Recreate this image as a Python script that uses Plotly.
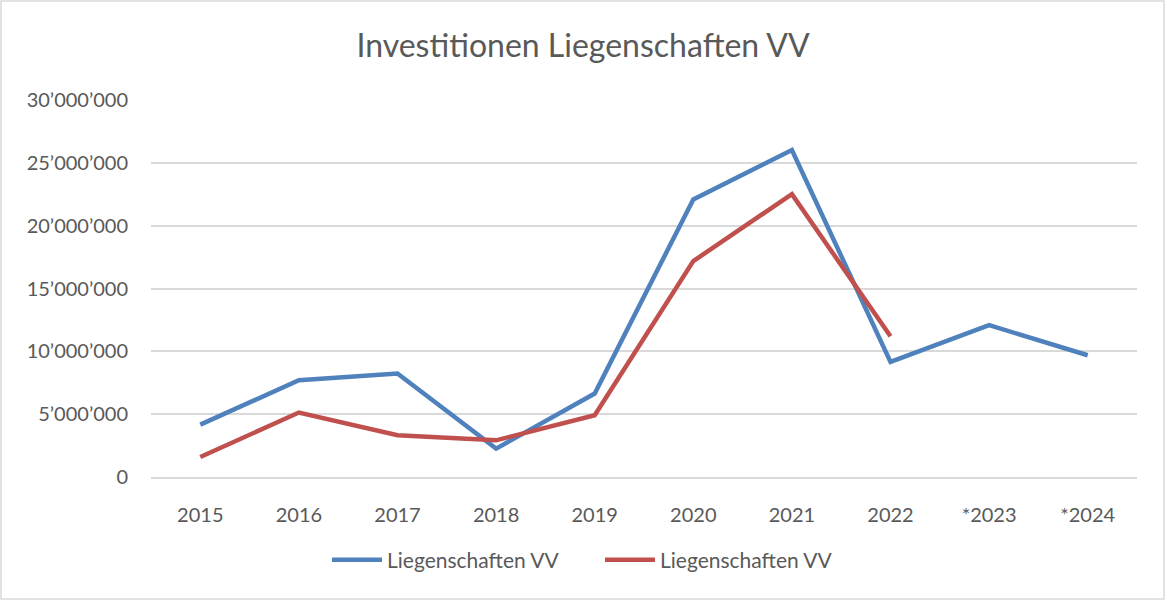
import plotly.graph_objects as go

# Jahre (Kategorien) und Investitionsbeträge
jahre = ["2015", "2016", "2017", "2018", "2019", "2020", "2021", "2022", "*2023", "*2024"]
serie_blau = [4170000, 7700000, 8230000, 2260000, 6640000, 22090000, 26020000, 9160000, 12080000, 9690000]
serie_rot = [1590000, 5130000, 3320000, 2920000, 4910000, 17180000, 22510000, 11200000, None, None]
serien_namen = ["Liegenschaften VV", "Liegenschaften VV"]

y_ticks = [0, 5000000, 10000000, 15000000, 20000000, 25000000, 30000000]
y_labels = ["0", "5’000’000", "10’000’000", "15’000’000", "20’000’000", "25’000’000", "30’000’000"]

FONT = "Lato, 'Open Sans', sans-serif"
GREY = "#595959"

fig = go.Figure()
fig.add_trace(go.Scatter(x=jahre, y=serie_blau, mode="lines", name=serien_namen[0],
                         line=dict(color="#4F81BD", width=4.5)))
fig.add_trace(go.Scatter(x=jahre, y=serie_rot, mode="lines", name=serien_namen[1],
                         line=dict(color="#C0504D", width=4.5)))

W, H = 1166, 601
ml, mr, mt, mb = 151, 29, 100, 124
pw, ph = W - ml - mr, H - mt - mb

def px_x(p):
    return (p - ml) / pw

def px_y(p):
    return (H - mb - p) / ph

fig.update_layout(
    width=W, height=H,
    margin=dict(l=ml, r=mr, t=mt, b=mb),
    paper_bgcolor="white", plot_bgcolor="white",
    font=dict(family=FONT, color=GREY, size=20),
    title=dict(text="Investitionen Liegenschaften VV", x=0.5, xanchor="center",
               y=1 - 46 / H, yanchor="middle",
               font=dict(size=32, color=GREY, family=FONT)),
    xaxis=dict(type="category", showgrid=False, zeroline=False,
               showline=True, linecolor="#D9D9D9", linewidth=1.5,
               ticks="outside", ticklen=19, tickcolor="rgba(0,0,0,0)",
               tickfont=dict(size=20, color=GREY), range=[-0.5, 9.5]),
    yaxis=dict(range=[0, 30000000], tickvals=y_ticks, ticktext=y_labels,
               showgrid=True, gridcolor="#D9D9D9", gridwidth=1.5,
               zeroline=False, showline=False,
               ticks="outside", ticklen=18, tickcolor="rgba(0,0,0,0)",
               tickfont=dict(size=20, color=GREY)),
    legend=dict(orientation="h", x=px_x(327), xanchor="left",
                y=px_y(560), yanchor="middle",
                font=dict(size=21, color=GREY), itemwidth=50,
                entrywidth=208, entrywidthmode="pixels",
                bgcolor="rgba(0,0,0,0)"),
    showlegend=True,
    shapes=[dict(type="rect", xref="paper", yref="paper",
                 x0=px_x(1), x1=px_x(W - 2), y0=px_y(H - 2), y1=px_y(1),
                 line=dict(color="#D9D9D9", width=1.5), layer="below")],
)

fig.write_html("out.html")
